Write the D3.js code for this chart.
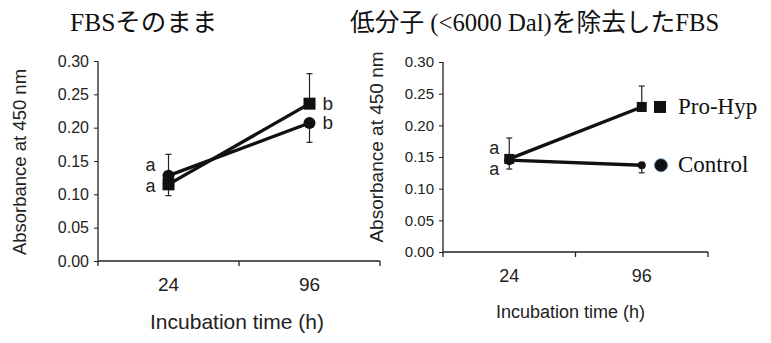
<!DOCTYPE html>
<html>
<head>
<meta charset="utf-8">
<script src="https://cdn.jsdelivr.net/npm/d3@7"></script>
<style>
  body { margin: 0; background: #fff; }
  svg { display: block; }
  .tick text { font-family: "Liberation Sans", Arial, sans-serif; fill: #222; }
</style>
</head>
<body>
<svg width="771" height="343"></svg>
<script>
// categories and values
var times = ["24", "96"];
var yTicks = [0, 0.05, 0.1, 0.15, 0.2, 0.25, 0.3];

// left panel: FBS as is
var leftProHyp = [0.115, 0.236];
var leftControl = [0.128, 0.207];
// one-sided error bars (signed: + up, - down)
var leftProHypErr = [-0.017, 0.045];
var leftControlErr = [0.032, -0.029];
var leftLabels = [["a", "a"], ["b", "b"]];

// right panel: low-MW removed FBS
var rightProHyp = [0.147, 0.229];
var rightControl = [0.145, 0.137];
var rightProHypErr = [0.033, 0.033];
var rightControlErr = [-0.014, -0.012];
var rightLabels = ["a", "a"];

var svg = d3.select("svg");
var sans = "Liberation Sans, Arial, sans-serif";

function panel(opt) {
    var x = d3.scaleBand().domain(times).range([opt.x0, opt.x1]).padding(0);
    var y = d3.scaleLinear().domain([0, 0.3]).range([opt.yBottom, opt.yTop]);
    var cx = function (i) { return x(times[i]) + x.bandwidth() / 2; };

    var g = svg.append("g");

    // y axis
    var ya = g.append("g")
        .attr("transform", "translate(" + opt.x0 + ",0)")
        .call(d3.axisLeft(y).tickValues(yTicks).tickFormat(d3.format(".2f")).tickSize(4).tickPadding(5));
    ya.select(".domain").attr("stroke", "#222").attr("stroke-width", 1.3).attr("d", "M0," + (opt.yBottom + 5) + "V" + opt.yTop);
    ya.selectAll(".tick line").attr("stroke", "#222");
    ya.selectAll(".tick text").style("font-size", opt.tickFont + "px");

    // x axis with ticks at band edges
    var xa = g.append("g");
    xa.append("line")
        .attr("x1", opt.x0).attr("x2", opt.x1)
        .attr("y1", opt.yBottom).attr("y2", opt.yBottom)
        .attr("stroke", "#222").attr("stroke-width", 1.3);
    var edges = [x(times[1]), opt.x1];
    xa.selectAll("line.edge").data(edges).enter().append("line")
        .attr("class", "edge")
        .attr("x1", function (d) { return d; }).attr("x2", function (d) { return d; })
        .attr("y1", opt.yBottom).attr("y2", opt.yBottom + 5)
        .attr("stroke", "#222").attr("stroke-width", 1.3);
    xa.selectAll("text.cat").data(times).enter().append("text")
        .attr("class", "cat")
        .attr("x", function (d, i) { return cx(i); })
        .attr("y", opt.catY)
        .attr("text-anchor", "middle")
        .style("font-family", sans)
        .style("font-size", opt.catFont + "px")
        .attr("fill", "#222")
        .text(function (d) { return d; });

    // axis titles
    g.append("text")
        .attr("x", (opt.x0 + opt.x1) / 2 + opt.xTitleDx)
        .attr("y", opt.xTitleY)
        .attr("text-anchor", "middle")
        .style("font-family", sans)
        .style("font-size", opt.titleFont + "px")
        .attr("fill", "#222")
        .text("Incubation time (h)");
    g.append("text")
        .attr("transform", "translate(" + opt.yTitleX + "," + opt.yTitleY + ") rotate(-90)")
        .attr("text-anchor", "middle")
        .style("font-family", sans)
        .style("font-size", opt.yTitleFont + "px")
        .attr("fill", "#222")
        .text("Absorbance at 450 nm");

    // panel heading
    g.append("text")
        .attr("x", opt.headX)
        .attr("y", 31)
        .style("font-family", "Liberation Serif, 'Noto Sans CJK JP', serif")
        .style("font-size", opt.headFont + "px")
        .attr("fill", "#111")
        .text(opt.heading);

    var line = d3.line().x(function (d, i) { return cx(i); }).y(function (d) { return y(d); });

    // error bars
    function errBars(vals, errs) {
        var eg = g.append("g");
        vals.forEach(function (v, i) {
            var yv = y(v), ye = y(v + errs[i]);
            eg.append("line").attr("x1", cx(i)).attr("x2", cx(i)).attr("y1", yv).attr("y2", ye)
                .attr("stroke", "#222").attr("stroke-width", 1.2);
            eg.append("line").attr("x1", cx(i) - 3).attr("x2", cx(i) + 3).attr("y1", ye).attr("y2", ye)
                .attr("stroke", "#222").attr("stroke-width", 1.2);
        });
    }
    errBars(opt.pro, opt.proErr);
    errBars(opt.ctl, opt.ctlErr);

    g.append("path").datum(opt.ctl).attr("d", line)
        .attr("fill", "none").attr("stroke", "#111").attr("stroke-width", 3.3);
    g.append("path").datum(opt.pro).attr("d", line)
        .attr("fill", "none").attr("stroke", "#111").attr("stroke-width", 3.3);

    g.selectAll("circle.ctl").data(opt.ctl).enter().append("circle")
        .attr("cx", function (d, i) { return cx(i); })
        .attr("cy", function (d) { return y(d); })
        .attr("r", function (d, i) { return opt.circleR[i]; })
        .attr("fill", "#111");
    g.selectAll("rect.pro").data(opt.pro).enter().append("rect")
        .attr("x", function (d, i) { return cx(i) - opt.sq[i] / 2; })
        .attr("y", function (d, i) { return y(d) - opt.sq[i] / 2; })
        .attr("width", function (d, i) { return opt.sq[i]; })
        .attr("height", function (d, i) { return opt.sq[i]; })
        .attr("fill", "#111");

    return { x: x, y: y, cx: cx, g: g };
}

var L = panel({
    x0: 98, x1: 380, yBottom: 261, yTop: 61,
    tickFont: 16, catFont: 19, titleFont: 21, yTitleFont: 18.5,
    catY: 291, xTitleY: 329, xTitleDx: -2, yTitleX: 26, yTitleY: 162,
    headX: 70, headFont: 25.5, heading: "FBSそのまま",
    pro: leftProHyp, ctl: leftControl, proErr: leftProHypErr, ctlErr: leftControlErr,
    circleR: [6, 6], sq: [12, 12]
});

// significance letters, left (offset apart from the points they label)
L.g.selectAll("text.lt").data([-15, 6]).enter().append("text")
    .attr("x", L.cx(0) - 13)
    .attr("y", function (d) { return L.y((leftControl[0] + leftProHyp[0]) / 2) + d + 6; })
    .attr("text-anchor", "end")
    .style("font-family", sans).style("font-size", "18px")
    .attr("fill", "#222")
    .text(function (d, i) { return leftLabels[0][i]; });
L.g.selectAll("text.rt").data([leftProHyp[1], leftControl[1]]).enter().append("text")
    .attr("x", L.cx(1) + 13).attr("y", function (d) { return L.y(d) + 6; })
    .style("font-family", sans).style("font-size", "19px")
    .attr("fill", "#222")
    .text(function (d, i) { return leftLabels[1][i]; });

var R = panel({
    x0: 443, x1: 708, yBottom: 252, yTop: 62,
    tickFont: 15, catFont: 18, titleFont: 18, yTitleFont: 19,
    catY: 282, xTitleY: 318, xTitleDx: -5, yTitleX: 383, yTitleY: 147,
    headX: 350, headFont: 24.7, heading: "低分子 (<6000 Dal)を除去したFBS",
    pro: rightProHyp, ctl: rightControl, proErr: rightProHypErr, ctlErr: rightControlErr,
    circleR: [5, 4], sq: [10, 10]
});

R.g.selectAll("text.lt").data([-11, 10]).enter().append("text")
    .attr("x", R.cx(0) - 10)
    .attr("y", function (d) { return R.y(rightProHyp[0]) + d + 6; })
    .attr("text-anchor", "end")
    .style("font-family", sans).style("font-size", "18px")
    .attr("fill", "#222")
    .text(function (d, i) { return rightLabels[i]; });

// legend
var legend = R.g.append("g");
legend.append("rect")
    .attr("x", 654).attr("y", R.y(rightProHyp[1]) - 6).attr("width", 12).attr("height", 12)
    .attr("fill", "#111");
legend.append("circle")
    .attr("cx", 661).attr("cy", R.y(rightControl[1]))
    .attr("r", 6.5).attr("fill", "#111").attr("stroke", "#4a7fb0").attr("stroke-width", 0.8);
legend.selectAll("text").data(["Pro-Hyp", "Control"]).enter().append("text")
    .attr("x", 678)
    .attr("y", function (d, i) { return i === 0 ? R.y(rightProHyp[1]) + 7 : R.y(rightControl[1]) + 7; })
    .style("font-family", "Liberation Serif, serif").style("font-size", "23px")
    .attr("fill", "#111")
    .text(function (d) { return d; });
</script>
</body>
</html>
